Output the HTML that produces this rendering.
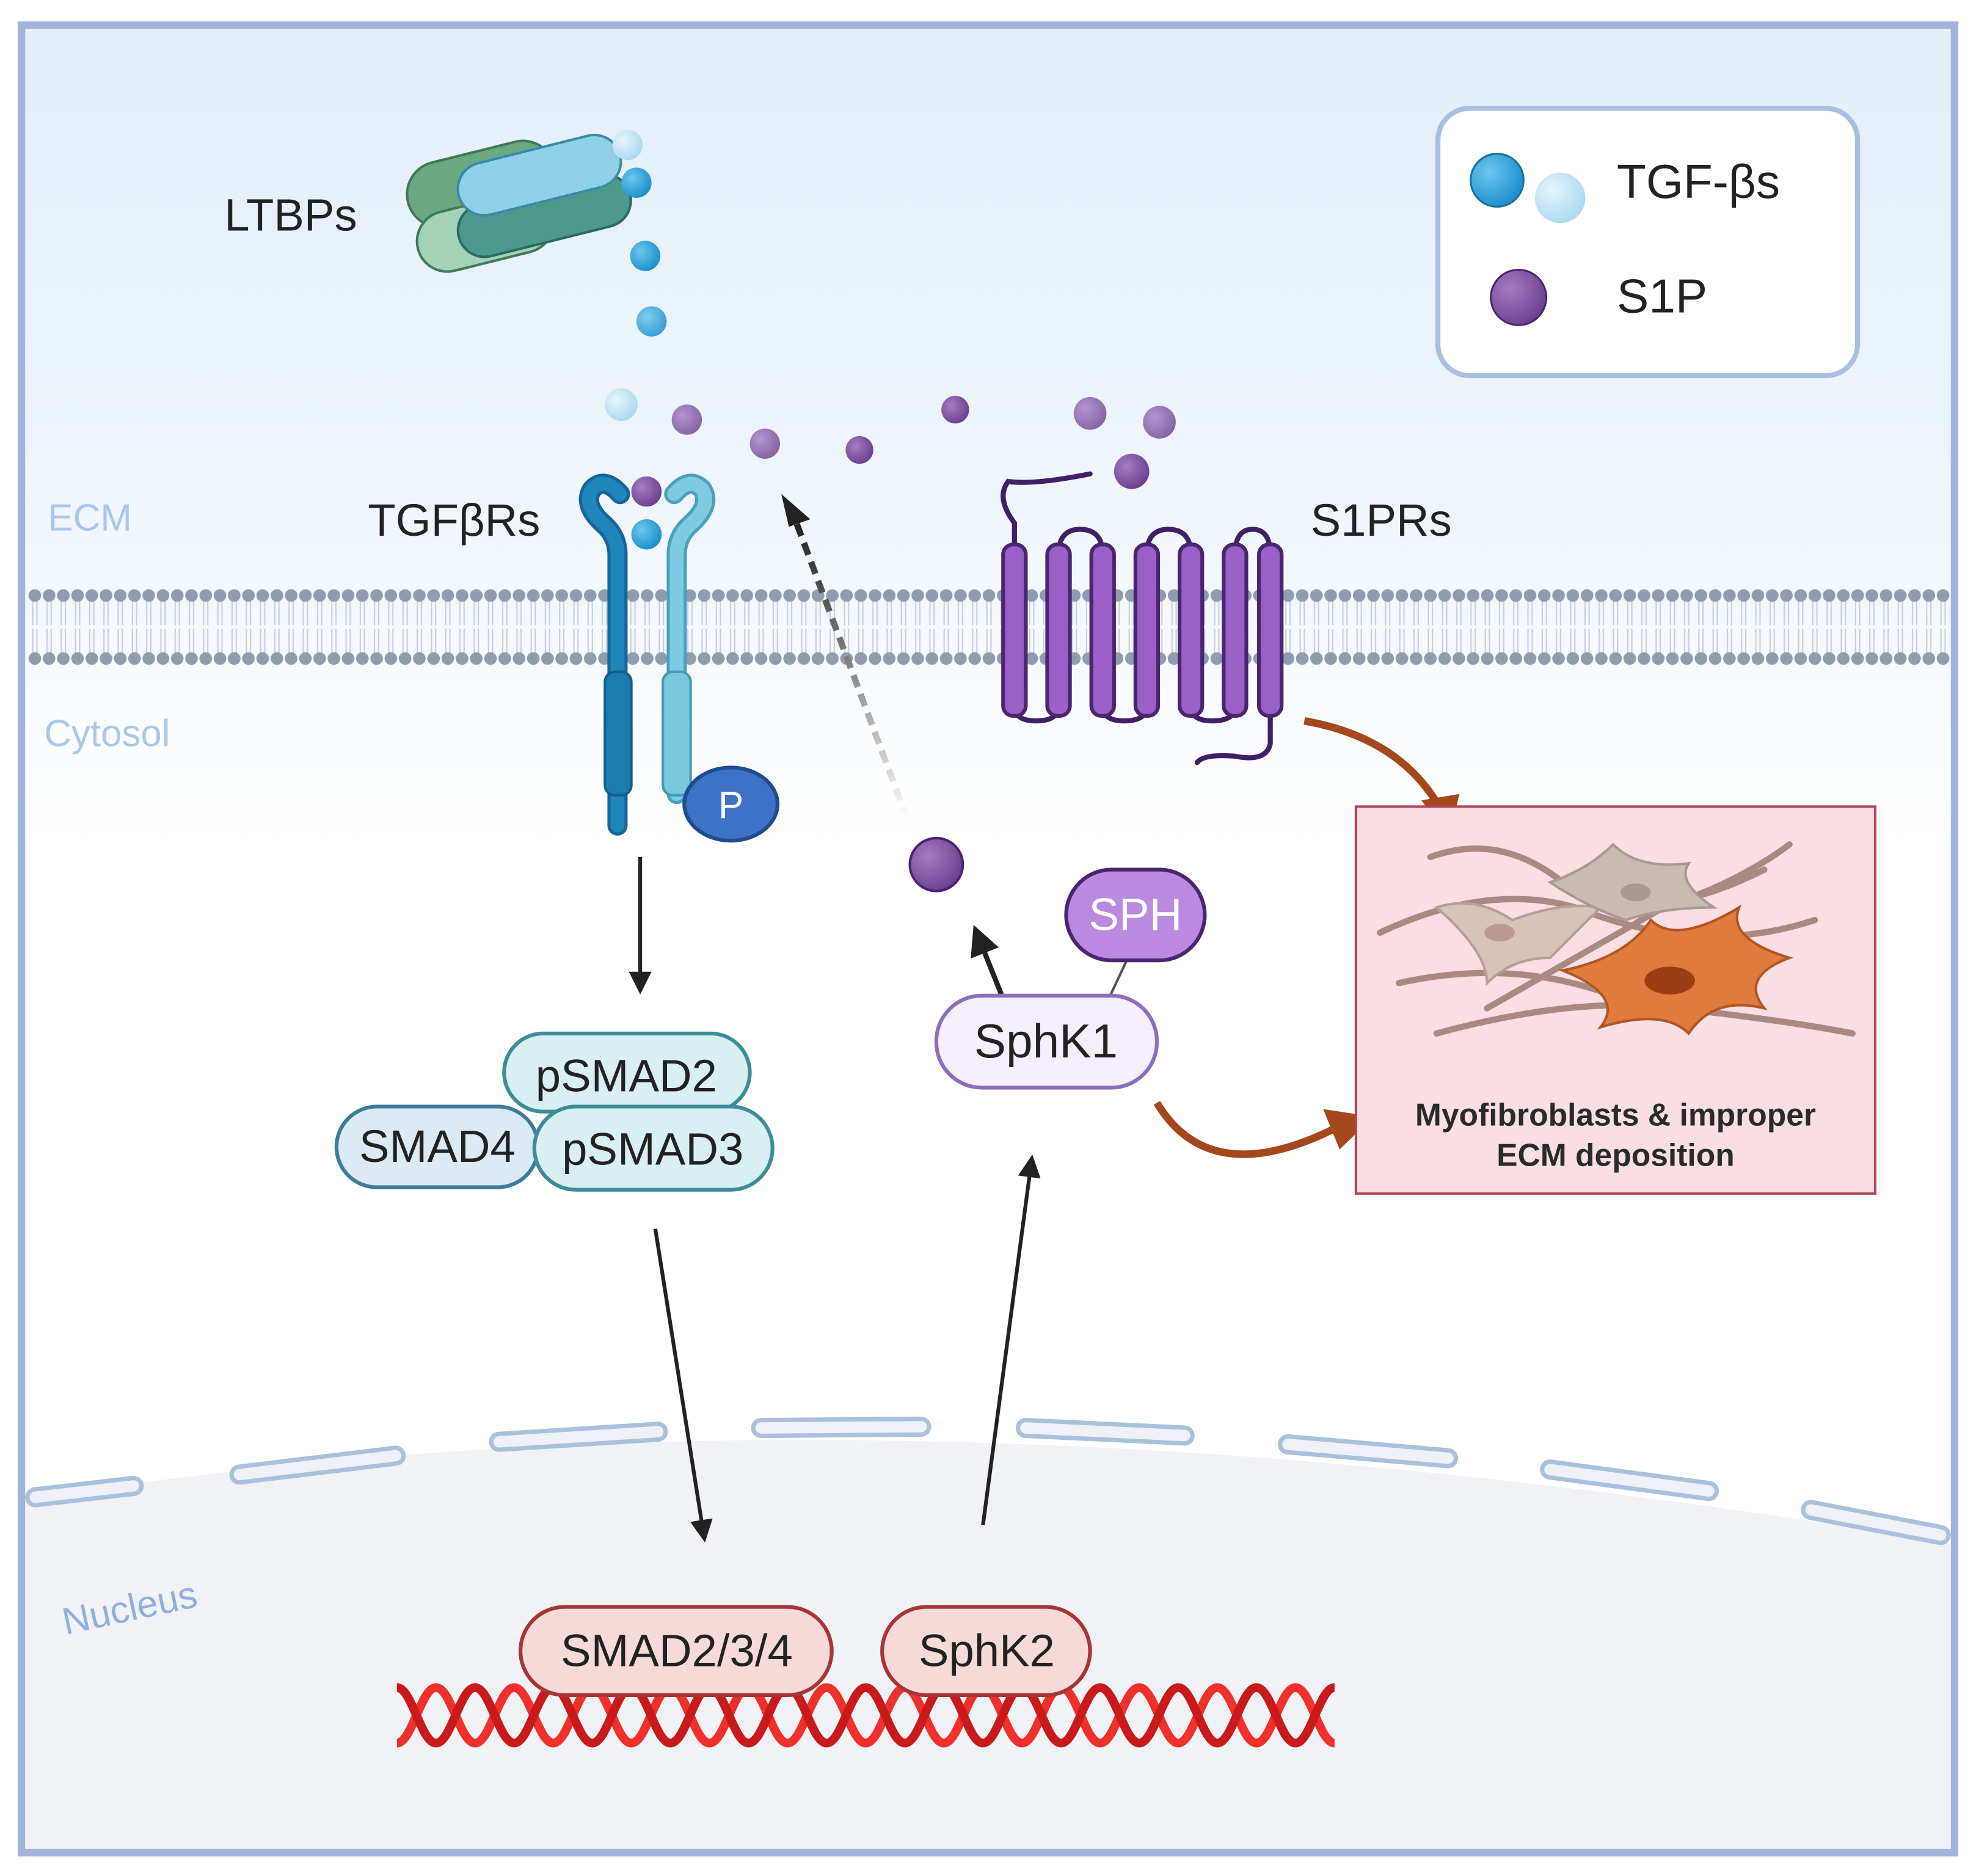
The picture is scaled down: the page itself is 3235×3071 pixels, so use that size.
<!DOCTYPE html>
<html><head><meta charset="utf-8"><style>
html,body{margin:0;padding:0;background:#fff}
svg{display:block}
text{font-family:"Liberation Sans",sans-serif}
</style></head><body>
<svg width="3235" height="3071" viewBox="0 0 1568 1488.5" preserveAspectRatio="none" xmlns="http://www.w3.org/2000/svg">
<defs>
<linearGradient id="bg" x1="0" y1="0" x2="0" y2="1">
<stop offset="0" stop-color="#e3eef9"/><stop offset="0.25" stop-color="#eef5fb"/><stop offset="0.45" stop-color="#ffffff"/><stop offset="1" stop-color="#ffffff"/>
</linearGradient>
<pattern id="mem" x="22" y="463" width="11.3" height="70" patternUnits="userSpaceOnUse">
<line x1="4" y1="14" x2="4" y2="33" stroke="#c5cdd9" stroke-width="1"/>
<line x1="7.3" y1="14" x2="7.3" y2="33" stroke="#c5cdd9" stroke-width="1"/>
<line x1="4" y1="36" x2="4" y2="55" stroke="#c5cdd9" stroke-width="1"/>
<line x1="7.3" y1="36" x2="7.3" y2="55" stroke="#c5cdd9" stroke-width="1"/>
<circle cx="5.65" cy="9.5" r="5" fill="#8e9cb0"/>
<circle cx="5.65" cy="59.5" r="5" fill="#8e9cb0"/>
</pattern>
<linearGradient id="dash" x1="0" y1="1" x2="0" y2="0">
<stop offset="0" stop-color="#ffffff"/><stop offset="0.5" stop-color="#888"/><stop offset="1" stop-color="#222"/>
</linearGradient>
<marker id="ah" markerWidth="6" markerHeight="6" refX="3" refY="3" orient="auto" markerUnits="strokeWidth">
<path d="M0,0 L6,3 L0,6 z" fill="#222"/></marker>
<radialGradient id="pb" cx="0.35" cy="0.35" r="0.7"><stop offset="0" stop-color="#a47cc4"/><stop offset="1" stop-color="#6b3f8f"/></radialGradient>
<radialGradient id="bb" cx="0.35" cy="0.35" r="0.7"><stop offset="0" stop-color="#6cc6ee"/><stop offset="1" stop-color="#1a8fcc"/></radialGradient>
<radialGradient id="lb" cx="0.35" cy="0.35" r="0.7"><stop offset="0" stop-color="#e6f5fc"/><stop offset="1" stop-color="#a9d9f0"/></radialGradient>
<path id="wv" d="M315,1383 c12,0 19,-44 31,-44 c12,0 19,44 31,44 c12,0 19,-44 31,-44 c12,0 19,44 31,44 c12,0 19,-44 31,-44 c12,0 19,44 31,44 c12,0 19,-44 31,-44 c12,0 19,44 31,44 c12,0 19,-44 31,-44 c12,0 19,44 31,44 c12,0 19,-44 31,-44 c12,0 19,44 31,44 c12,0 19,-44 31,-44 c12,0 19,44 31,44 c12,0 19,-44 31,-44 c12,0 19,44 31,44 c12,0 19,-44 31,-44 c12,0 19,44 31,44 c12,0 19,-44 31,-44 c12,0 19,44 31,44 c12,0 19,-44 31,-44 c12,0 19,44 31,44 c12,0 19,-44 31,-44 c12,0 19,44 31,44"/>
<path id="wv2" d="M315,1339 c12,0 19,44 31,44 c12,0 19,-44 31,-44 c12,0 19,44 31,44 c12,0 19,-44 31,-44 c12,0 19,44 31,44 c12,0 19,-44 31,-44 c12,0 19,44 31,44 c12,0 19,-44 31,-44 c12,0 19,44 31,44 c12,0 19,-44 31,-44 c12,0 19,44 31,44 c12,0 19,-44 31,-44 c12,0 19,44 31,44 c12,0 19,-44 31,-44 c12,0 19,44 31,44 c12,0 19,-44 31,-44 c12,0 19,44 31,44 c12,0 19,-44 31,-44 c12,0 19,44 31,44 c12,0 19,-44 31,-44 c12,0 19,44 31,44 c12,0 19,-44 31,-44 c12,0 19,44 31,44 c12,0 19,-44 31,-44"/>
</defs>

<rect x="17" y="20" width="1534" height="1450" fill="url(#bg)" stroke="#a3b4db" stroke-width="6"/>
<!-- nucleus -->
<path d="M20,1190 Q700,1080 1548,1225 L1548,1467 L20,1467 Z" fill="#f1f2f5"/>
<g fill="none" stroke-linecap="round">
<g stroke="#a9c1dc" stroke-width="16">
<path d="M28,1188 L106,1179"/><path d="M190,1170 L314,1155"/><path d="M396,1144 L522,1136"/><path d="M604,1133 L731,1132"/><path d="M814,1133 L940,1139"/><path d="M1022,1146 L1149,1157"/><path d="M1230,1166 L1356,1183"/><path d="M1437,1198 L1540,1218"/>
</g>
<g stroke="#eef2f8" stroke-width="9">
<path d="M28,1188 L106,1179"/><path d="M190,1170 L314,1155"/><path d="M396,1144 L522,1136"/><path d="M604,1133 L731,1132"/><path d="M814,1133 L940,1139"/><path d="M1022,1146 L1149,1157"/><path d="M1230,1166 L1356,1183"/><path d="M1437,1198 L1540,1218"/>
</g></g>

<!-- membrane -->
<rect x="22" y="463" width="1526" height="70" fill="url(#mem)"/>

<text x="38" y="421" font-size="30" fill="#a9c8e8">ECM</text>
<text x="35" y="592" font-size="30" fill="#a9c8e8">Cytosol</text>
<text x="52" y="1297" font-size="30" fill="#8fb0dc" transform="rotate(-12 52 1297)">Nucleus</text>

<text x="178" y="183" font-size="36" fill="#222">LTBPs</text>
<text x="292" y="425" font-size="36" fill="#222">TGFβRs</text>
<text x="1040" y="425" font-size="36" fill="#222">S1PRs</text>

<!-- LTBPs -->
<g>
<rect x="322" y="120" width="120" height="52" rx="26" fill="#6aa87f" stroke="#3e7a57" stroke-width="2" transform="rotate(-14 382 146)"/>
<rect x="330" y="160" width="110" height="48" rx="24" fill="#a3d2b8" stroke="#3e7a57" stroke-width="2" transform="rotate(-14 385 184)"/>
<rect x="362" y="150" width="140" height="42" rx="21" fill="#4b9a8c" stroke="#2a6a60" stroke-width="2" transform="rotate(-14 432 171)"/>
<rect x="362" y="118" width="132" height="42" rx="21" fill="#8fd0e6" stroke="#3a8aa8" stroke-width="2" transform="rotate(-14 428 139)"/>
</g>
<circle cx="498" cy="115" r="12" fill="url(#lb)"/>
<circle cx="505" cy="145" r="12" fill="url(#bb)"/>
<circle cx="512" cy="203" r="12" fill="url(#bb)"/>
<circle cx="517" cy="255" r="12" fill="url(#bb)" opacity="0.85"/>
<circle cx="493" cy="321" r="13" fill="url(#lb)"/>
<circle cx="545" cy="333" r="12" fill="url(#pb)" opacity="0.8"/>
<circle cx="607" cy="352" r="12" fill="url(#pb)" opacity="0.8"/>
<circle cx="682" cy="357" r="11" fill="url(#pb)"/>
<circle cx="758" cy="325" r="11" fill="url(#pb)"/>
<circle cx="865" cy="328" r="13" fill="url(#pb)" opacity="0.8"/>
<circle cx="920" cy="335" r="13" fill="url(#pb)" opacity="0.8"/>
<circle cx="898" cy="374" r="14" fill="url(#pb)"/>

<!-- TGF receptors -->
<g fill="none" stroke-linecap="round">
<path d="M490,655 L490,440 Q490,425 478,415 Q462,400 470,388 Q480,378 492,392" stroke="#17659a" stroke-width="16"/>
<path d="M490,655 L490,440 Q490,425 478,415 Q462,400 470,388 Q480,378 492,392" stroke="#1f86bb" stroke-width="11"/>
<path d="M537,630 L537,440 Q537,425 549,415 Q565,400 557,388 Q547,378 535,392" stroke="#4aa0bd" stroke-width="16"/>
<path d="M537,630 L537,440 Q537,425 549,415 Q565,400 557,388 Q547,378 535,392" stroke="#7ccbe0" stroke-width="11"/>
</g>
<rect x="480" y="533" width="21" height="98" rx="8" fill="#1a7dad" stroke="#135f88" stroke-width="2"/>
<rect x="526" y="533" width="22" height="98" rx="8" fill="#79c8dc" stroke="#3f9cb8" stroke-width="2"/>
<circle cx="513" cy="390" r="12" fill="url(#pb)"/>
<circle cx="513" cy="424" r="12" fill="url(#bb)"/>
<ellipse cx="580" cy="638" rx="37" ry="29" fill="#3e72c4" stroke="#1f4c8f" stroke-width="3"/>
<text x="580" y="649" font-size="30" fill="#fff" text-anchor="middle">P</text>

<!-- S1PR -->
<g fill="none" stroke="#3f1f66" stroke-width="4" stroke-linecap="round">
<path d="M865,376 Q820,385 800,382 Q790,395 805,415 L805,440"/>
<path d="M1008,560 L1008,590 Q1005,605 980,600 Q955,598 950,605"/>
<path d="M805,560 Q805,572 822,572 Q840,572 840,560"/>
<path d="M840,440 Q840,420 857,420 Q875,420 875,440"/>
<path d="M875,560 Q875,572 892,572 Q910,572 910,560"/>
<path d="M910,440 Q910,420 927,420 Q945,420 945,440"/>
<path d="M945,560 Q945,572 962,572 Q980,572 980,560"/>
<path d="M980,440 Q980,420 994,420 Q1008,420 1008,440"/>
</g>
<g fill="#9b5fc8" stroke="#4a2570" stroke-width="3">
<rect x="796" y="432" width="18" height="136" rx="8"/>
<rect x="831" y="432" width="18" height="136" rx="8"/>
<rect x="866" y="432" width="18" height="136" rx="8"/>
<rect x="901" y="432" width="18" height="136" rx="8"/>
<rect x="936" y="432" width="18" height="136" rx="8"/>
<rect x="971" y="432" width="18" height="136" rx="8"/>
<rect x="999" y="432" width="18" height="136" rx="8"/>
</g>

<!-- Legend -->
<rect x="1141" y="86" width="333" height="212" rx="25" fill="#fff" stroke="#a9bfe2" stroke-width="4"/>
<circle cx="1188" cy="143" r="21" fill="url(#bb)" stroke="#1b6f9e" stroke-width="1.5"/>
<circle cx="1238" cy="157" r="20" fill="url(#lb)"/>
<circle cx="1205" cy="236" r="22" fill="url(#pb)" stroke="#4a2570" stroke-width="1.5"/>
<text x="1283" y="157" font-size="38" fill="#222">TGF-βs</text>
<text x="1283" y="248" font-size="38" fill="#222">S1P</text>

<!-- arrows -->
<g stroke="#222" stroke-width="3" fill="none">
<line x1="508" y1="680" x2="508" y2="780" marker-end="url(#ah)"/>
<line x1="520" y1="975" x2="558" y2="1215" marker-end="url(#ah)"/>
<line x1="780" y1="1210" x2="818" y2="925" marker-end="url(#ah)"/>
<line x1="795" y1="790" x2="777" y2="745" stroke-width="4" marker-end="url(#ah)"/>
</g>
<line x1="720" y1="650" x2="632" y2="415" stroke="url(#dash)" stroke-width="5" stroke-dasharray="10,6"/>
<path d="M620,392 L643,412 L626,418 Z" fill="#222"/>

<circle cx="743" cy="686" r="21" fill="url(#pb)" stroke="#4a2570" stroke-width="2"/>

<!-- SMAD complex -->
<rect x="400" y="820" width="195" height="62" rx="31" fill="#d9f0f3" stroke="#3e8c9a" stroke-width="3"/>
<rect x="267" y="878" width="160" height="64" rx="32" fill="#dbeaf5" stroke="#3e7c9a" stroke-width="3"/>
<rect x="424" y="878" width="189" height="66" rx="33" fill="#d9f0f3" stroke="#3e8c9a" stroke-width="3"/>
<text x="497" y="866" font-size="36" fill="#222" text-anchor="middle">pSMAD2</text>
<text x="347" y="922" font-size="36" fill="#222" text-anchor="middle">SMAD4</text>
<text x="518" y="924" font-size="36" fill="#222" text-anchor="middle">pSMAD3</text>

<!-- SphK1 / SPH -->
<line x1="880" y1="792" x2="895" y2="760" stroke="#555" stroke-width="2"/>
<rect x="846" y="690" width="110" height="72" rx="36" fill="#b98ae0" stroke="#4a2570" stroke-width="3"/>
<text x="901" y="738" font-size="36" fill="#fff" text-anchor="middle">SPH</text>
<rect x="743" y="790" width="175" height="73" rx="36" fill="#f4effb" stroke="#8d6dbd" stroke-width="3"/>
<text x="830" y="839" font-size="38" fill="#222" text-anchor="middle">SphK1</text>

<!-- brown arrows -->
<g fill="none" stroke="#a5471c" stroke-width="6">
<path d="M1035,572 Q1110,585 1142,640"/>
<path d="M918,875 Q960,945 1060,895"/>
</g>
<path d="M1128,635 L1158,630 L1150,667 Z" fill="#a5471c"/>
<path d="M1050,880 L1090,886 L1063,912 Z" fill="#a5471c"/>

<!-- pink box -->
<rect x="1076" y="640" width="412" height="307" fill="#f9dee4" stroke="#b0485a" stroke-width="2"/>
<g fill="none" stroke="#a98a80" stroke-width="5" stroke-linecap="round">
<path d="M1095,740 Q1180,700 1250,720 Q1350,760 1440,730"/>
<path d="M1135,680 Q1190,660 1240,700 Q1300,740 1400,690"/>
<path d="M1140,820 Q1250,790 1330,800 Q1420,810 1470,820"/>
<path d="M1180,800 Q1250,760 1320,720 Q1380,700 1420,670"/>
<path d="M1110,780 Q1200,760 1280,790"/>
</g>
<path d="M1140,720 Q1170,710 1200,730 Q1240,715 1270,720 Q1250,740 1230,760 Q1200,760 1180,780 Q1180,755 1140,720 Z" fill="#d8c3b8" stroke="#b5a095" stroke-width="2"/>
<ellipse cx="1190" cy="740" rx="12" ry="7" fill="#b89a92"/>
<path d="M1230,700 Q1260,690 1280,670 Q1300,690 1340,685 Q1330,700 1360,720 Q1320,720 1290,730 Q1260,720 1230,700 Z" fill="#c9bbb3" stroke="#a89a92" stroke-width="2"/>
<ellipse cx="1298" cy="708" rx="12" ry="7" fill="#a89890"/>
<path d="M1240,770 Q1290,760 1310,730 Q1330,750 1380,720 Q1370,745 1420,760 Q1380,775 1400,800 Q1360,790 1340,820 Q1320,800 1270,815 Q1290,790 1240,770 Z" fill="#e07b3d" stroke="#b25520" stroke-width="2"/>
<ellipse cx="1325" cy="778" rx="20" ry="11" fill="#9a3e15"/>
<text x="1282" y="893" font-size="25" font-weight="bold" fill="#2a2a2a" text-anchor="middle">Myofibroblasts &amp; improper</text>
<text x="1282" y="925" font-size="25" font-weight="bold" fill="#2a2a2a" text-anchor="middle">ECM deposition</text>

<!-- DNA -->
<g fill="none" stroke-width="7">
<use href="#wv" stroke="#f0302a"/>
<use href="#wv2" stroke="#c81a1a"/>
</g>
<rect x="413" y="1275" width="247" height="70" rx="35" fill="#f6dad8" stroke="#a83535" stroke-width="3"/>
<text x="537" y="1322" font-size="36" fill="#222" text-anchor="middle">SMAD2/3/4</text>
<rect x="700" y="1275" width="165" height="70" rx="35" fill="#f6dad8" stroke="#a83535" stroke-width="3"/>
<text x="783" y="1322" font-size="36" fill="#222" text-anchor="middle">SphK2</text>
</svg>
</body></html>
